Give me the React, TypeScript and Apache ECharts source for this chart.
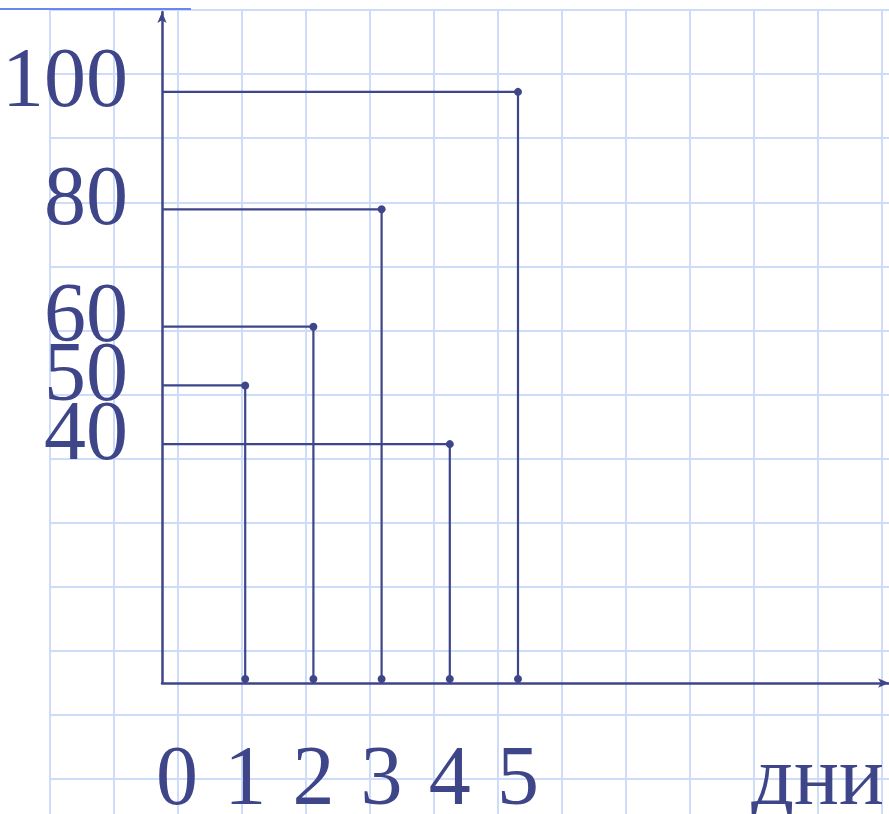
import React, { useEffect, useRef } from "react";
import * as echarts from "echarts";

// Data
const DAYS = [1, 2, 3, 4, 5];
const VALUES = [50, 60, 80, 40, 100];
const X_TICKS = [0, 1, 2, 3, 4, 5];
const Y_TICKS = [40, 50, 60, 80, 100];
const X_NAME = "дни";

const INK = "#3f4589";
const PAPER = "#cfdcf9";
const FONT = "'Liberation Serif', 'Times New Roman', serif";

const W = 889;
const H = 814;
const X_MIN = -0.22;
const X_MAX = 10.44;
const Y_MIN = -0.68;
const Y_MAX = 113.6;

// labels split over two axes so that close neighbours are never auto-hidden
const Y_TICKS_A = Y_TICKS.filter((_, i) => i % 2 === 0);
const Y_TICKS_B = Y_TICKS.filter((_, i) => i % 2 === 1);

export default function App() {
  const ref = useRef<HTMLDivElement>(null);
  useEffect(() => {
    if (!ref.current) return;
    const chart = echarts.init(ref.current, null, { renderer: "svg" });
    const yLabel = (vals: number[]) => ({
      customValues: vals,
      showMinLabel: true,
      showMaxLabel: true,
      color: INK,
      fontFamily: FONT,
      fontSize: 84,
      lineHeight: 28,
      verticalAlign: "bottom",
      margin: 34,
      hideOverlap: false,
    });
    const option: any = {
      animation: false,
      backgroundColor: "#ffffff",
      grid: [
        {
          left: 162,
          top: 12,
          width: W - 162,
          bottom: H - 683,
          containLabel: false,
          outerBoundsMode: "none",
        },
        {
          left: 50,
          top: 10,
          width: 64 * 14,
          height: 64.1 * 13,
          containLabel: false,
          outerBoundsMode: "none",
        },
      ],
      xAxis: [
        {
          type: "value",
          gridIndex: 0,
          min: X_MIN,
          max: X_MAX,
          position: "bottom",
          axisLine: {
            onZero: false,
            lineStyle: { color: INK, width: 2.5 },
            symbol: ["none", "arrow"],
            symbolSize: [7, 11],
          },
          axisTick: { show: false },
          splitLine: { show: false },
          axisLabel: {
            customValues: X_TICKS,
            showMinLabel: true,
            showMaxLabel: true,
            color: INK,
            fontFamily: FONT,
            fontSize: 84,
            lineHeight: 60,
            margin: 62,
            hideOverlap: false,
          },
        },
        {
          type: "value",
          gridIndex: 1,
          min: 0,
          max: 14,
          interval: 1,
          axisLine: { show: false },
          axisTick: { show: false },
          axisLabel: { show: false },
          splitLine: { show: true, lineStyle: { color: PAPER, width: 2 } },
        },
      ],
      yAxis: [
        {
          type: "value",
          gridIndex: 0,
          min: Y_MIN,
          max: Y_MAX,
          position: "left",
          axisLine: {
            show: true,
            onZero: false,
            lineStyle: { color: INK, width: 2.5 },
            symbol: ["none", "arrow"],
            symbolSize: [7, 11],
          },
          axisTick: { show: false },
          splitLine: { show: false },
          axisLabel: yLabel(Y_TICKS_A),
        },
        {
          type: "value",
          gridIndex: 1,
          min: 0,
          max: 13,
          interval: 1,
          inverse: true,
          axisLine: { show: false },
          axisTick: { show: false },
          axisLabel: { show: false },
          splitLine: { show: true, lineStyle: { color: PAPER, width: 2 } },
        },
        {
          type: "value",
          gridIndex: 0,
          min: Y_MIN,
          max: Y_MAX,
          position: "left",
          offset: 0,
          axisLine: { show: false, onZero: false },
          axisTick: { show: false },
          splitLine: { show: false },
          axisLabel: yLabel(Y_TICKS_B),
        },
      ],
      graphic: [
        {
          type: "line",
          shape: { x1: 0, y1: 9, x2: 191, y2: 9 },
          style: { stroke: "#6d86ef", lineWidth: 2 },
          z: 1,
        },
        {
          type: "text",
          right: 5,
          top: 733,
          style: {
            text: X_NAME,
            fill: INK,
            font: `84px ${FONT}`,
          },
          z: 10,
        },
      ],
      series: [
        {
          type: "custom",
          xAxisIndex: 0,
          yAxisIndex: 0,
          z: 5,
          data: DAYS.map((d, i) => [d, VALUES[i]]),
          renderItem: (params: any, api: any) => {
            const d = api.value(0);
            const v = api.value(1);
            const p = api.coord([d, v]);
            const p0 = api.coord([d, 0]);
            const left = params.coordSys.x;
            return {
              type: "group",
              children: [
                {
                  type: "polyline",
                  shape: { points: [[left, p[1]], [p[0], p[1]], [p0[0], p0[1]]] },
                  style: { stroke: INK, lineWidth: 2.2, fill: null },
                },
                { type: "circle", shape: { cx: p[0], cy: p[1], r: 4 }, style: { fill: INK } },
                { type: "circle", shape: { cx: p0[0], cy: p0[1], r: 4 }, style: { fill: INK } },
              ],
            };
          },
        },
      ],
    };
    chart.setOption(option);
    return () => chart.dispose();
  }, []);
  return (
    <div
      ref={ref}
      style={{ position: "fixed", left: 0, top: 0, width: W, height: H }}
    />
  );
}
